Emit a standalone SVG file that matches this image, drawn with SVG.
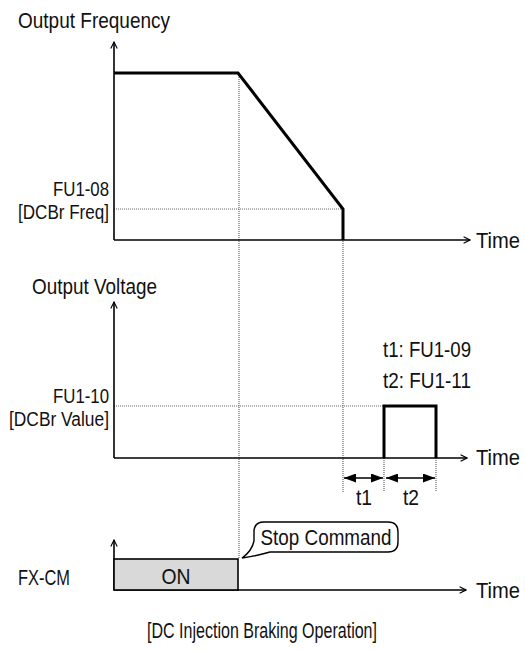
<svg xmlns="http://www.w3.org/2000/svg" width="525" height="652" viewBox="0 0 525 652">
<style>
text{font-family:"Liberation Sans",Arial,sans-serif;font-size:22.5px;fill:#111}
text.lv{font-size:20px}
.axis{stroke:#000;stroke-width:1.6;fill:none}
.sig{stroke:#000;stroke-width:3;fill:none;stroke-linejoin:miter}
.dot{stroke:#666;stroke-width:1.2;stroke-dasharray:1 1;fill:none}
.dim{stroke:#000;stroke-width:1.6;fill:none}
</style>
<defs>
<marker id="open" viewBox="0 0 10 10" refX="9" refY="5" markerWidth="8" markerHeight="8" markerUnits="userSpaceOnUse" orient="auto">
<path d="M1 1 L9 5 L1 9" fill="none" stroke="#000" stroke-width="1.4"/>
</marker>
<marker id="solid" viewBox="0 0 10 10" refX="10" refY="5" markerWidth="12" markerHeight="9" markerUnits="userSpaceOnUse" orient="auto-start-reverse" preserveAspectRatio="none">
<path d="M0 0 L10 5 L0 10 Z" fill="#000"/>
</marker>
</defs>
<g id="guides">
<path class="dot" d="M239 73 V559"/>
<path class="dot" d="M114 209 H343"/>
<path class="dot" d="M343 209 V492"/>
<path class="dot" d="M114 406 H384"/>
<path class="dot" d="M384 458 V492"/>
<path class="dot" d="M436 458 V492"/>
</g>
<g id="connectors">
<path class="axis" d="M114 240 V42" marker-end="url(#open)"/>
<path class="axis" d="M114 240 H470" marker-end="url(#open)"/>
<path class="axis" d="M114 458 V302" marker-end="url(#open)"/>
<path class="axis" d="M114 458 H467" marker-end="url(#open)"/>
<path class="axis" d="M114 590 V540" marker-end="url(#open)"/>
<path class="axis" d="M114 590 H466" marker-end="url(#open)"/>
<path class="dim" d="M344 478 H383" marker-start="url(#solid)" marker-end="url(#solid)"/>
<path class="dim" d="M386 478 H435" marker-start="url(#solid)" marker-end="url(#solid)"/>
</g>
<g id="freq-curve">
<path class="sig" d="M114 73 H238 L343 209 V240"/>
</g>
<g id="voltage-pulse">
<path class="sig" d="M384 458 V406 H436 V458"/>
</g>
<g id="on-box">
<rect x="114" y="559" width="124" height="31" fill="#d9d9d9" stroke="#000" stroke-width="1.6"/>
<text x="176" y="584" text-anchor="middle" textLength="29" lengthAdjust="spacingAndGlyphs">ON</text>
</g>
<g id="stop-command">
<path d="M264 522 H388 Q398 522 398 532 V542 Q398 552 388 552 H270 Q256 556 242 558 Q252 551 254 541 V532 Q254 522 264 522 Z" fill="#fff" stroke="#000" stroke-width="1.4"/>
<text x="326" y="545" text-anchor="middle" textLength="131" lengthAdjust="spacingAndGlyphs">Stop Command</text>
</g>
<g id="labels">
<text x="18" y="28" textLength="152" lengthAdjust="spacingAndGlyphs">Output Frequency</text>
<text class="lv" x="109" y="196" text-anchor="end" textLength="56" lengthAdjust="spacingAndGlyphs">FU1-08</text>
<text class="lv" x="109" y="219" text-anchor="end" textLength="91" lengthAdjust="spacingAndGlyphs">[DCBr Freq]</text>
<text x="476" y="248" textLength="44" lengthAdjust="spacingAndGlyphs">Time</text>
<text x="32" y="294" textLength="125" lengthAdjust="spacingAndGlyphs">Output Voltage</text>
<text x="383" y="357" textLength="88" lengthAdjust="spacingAndGlyphs">t1: FU1-09</text>
<text x="383" y="388" textLength="88" lengthAdjust="spacingAndGlyphs">t2: FU1-11</text>
<text class="lv" x="109" y="403" text-anchor="end" textLength="56" lengthAdjust="spacingAndGlyphs">FU1-10</text>
<text class="lv" x="109" y="426" text-anchor="end" textLength="100" lengthAdjust="spacingAndGlyphs">[DCBr Value]</text>
<text x="476" y="465" textLength="44" lengthAdjust="spacingAndGlyphs">Time</text>
<text x="364" y="505" text-anchor="middle" textLength="16" lengthAdjust="spacingAndGlyphs">t1</text>
<text x="411" y="505" text-anchor="middle" textLength="16" lengthAdjust="spacingAndGlyphs">t2</text>
<text x="18" y="585" textLength="52" lengthAdjust="spacingAndGlyphs">FX-CM</text>
<text x="476" y="598" textLength="44" lengthAdjust="spacingAndGlyphs">Time</text>
<text x="262" y="638" text-anchor="middle" textLength="230" lengthAdjust="spacingAndGlyphs">[DC Injection Braking Operation]</text>
</g>
</svg>
